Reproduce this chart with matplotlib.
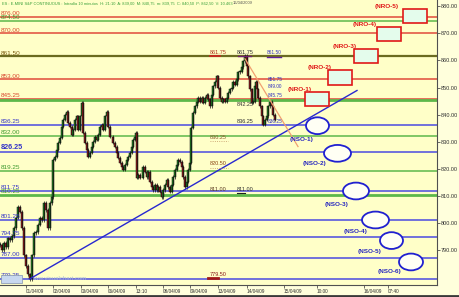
import matplotlib
matplotlib.use("Agg")
import matplotlib.pyplot as plt
from matplotlib.patches import Rectangle, Ellipse
from matplotlib.lines import Line2D

# ---------------- data ----------------
bar_pos = [0, 2, 4, 6, 8, 10, 12, 14, 16, 18, 20, 22, 24, 26, 28, 30, 32, 34, 36, 38,
           40, 42, 44, 46, 48, 50, 52, 53, 55, 57, 58, 60, 62, 63, 65, 67, 68, 70, 72, 73,
           75, 77, 78, 80, 82, 83, 85, 87, 88, 90, 92, 93, 95, 97, 98, 100, 102, 103, 105, 107,
           108, 110, 113, 115, 117, 118, 120, 122, 123, 125, 127, 128, 130, 132, 133, 135, 136, 137, 138, 140,
           143, 145, 147, 148, 150, 152, 153, 155, 157, 158, 160, 162, 163, 165, 167, 168, 170, 172, 173, 175,
           177, 178, 180, 182, 183, 185, 187, 188, 190, 191, 193, 195, 197, 198, 200, 202, 203, 205, 207, 208,
           210, 212, 213, 215, 217, 218, 220, 222, 223, 225, 227, 228, 230, 232, 233, 235, 237, 238, 240, 242,
           243, 245, 247, 248, 250, 252, 253, 255, 256, 257, 258, 260, 262, 263, 265, 267, 268, 270, 272, 273, 275]
closes = [791.9, 790.0, 792.6, 791.1, 794.4, 793.7, 795.2, 798.1, 801.9, 805.9, 804.1, 798.1, 788.1, 784.1, 781.1, 779.25, 788.1, 796.3, 796.7, 799.3,
          801.9, 801.1, 807.4, 804.8, 798.1, 807.4, 809.6, 823.3, 824.4, 827.0, 829.6, 831.5, 835.6, 838.1, 840.0, 841.1, 837.0, 835.6, 832.6, 834.4,
          838.1, 839.3, 834.4, 839.3, 844.4, 833.3, 829.6, 827.0, 824.4, 825.9, 828.1, 830.0, 831.9, 830.7, 832.6, 835.6, 836.3, 834.4, 839.3, 841.1,
          835.6, 831.9, 829.6, 828.1, 825.9, 824.1, 822.2, 820.7, 819.6, 821.5, 823.3, 824.4, 825.9, 828.1, 830.7, 831.9, 833.3, 816.7, 817.8, 816.7,
          820.7, 818.9, 817.0, 818.9, 815.2, 813.3, 812.2, 814.1, 812.2, 813.3, 811.5, 809.6, 812.2, 814.1, 815.9, 813.3, 811.5, 814.1, 817.0, 819.6,
          821.5, 823.3, 822.6, 820.7, 817.0, 813.3, 815.2, 819.6, 822.2, 835.2, 840.7, 843.0, 844.8, 846.3, 844.8, 846.3, 844.4, 846.3, 847.4, 845.6,
          843.0, 847.4, 850.4, 852.2, 854.1, 850.0, 846.3, 844.8, 845.6, 844.8, 846.3, 848.1, 849.3, 850.0, 852.2, 851.1, 853.0, 855.6, 855.9, 857.4,
          859.6, 861.75, 857.8, 854.1, 849.3, 844.4, 844.8, 850.4, 852.2, 849.3, 846.3, 843.0, 839.3, 836.25, 838.1, 839.3, 843.0, 844.8, 843.0, 840.0, 838.1]

red_levels = [876.00, 870.00, 853.00, 845.75]
red_labels = ["876.00", "870.00", "853.00", "845.25"]
green_levels = [874.50, 832.00, 819.25, 845.25, 810.25]
green_labels = ["874.50", "832.00", "819.25", "", "810.25"]
olive_level = 861.50
olive_label = "861.50"
blue_levels = [836.25, 826.25, 811.75, 801.25, 794.75, 787.00, 779.25]
blue_labels = ["836.25", "826.25", "811.75", "801.25", "794.75", "787.00", "779.25"]

trend_up_bars = [30, 357]
trend_up_prices = [779.4, 848.9]
trend_down_bars = [245, 298]
trend_down_prices = [860.6, 828.2]

nro_names = ["(NRO-1)", "(NRO-2)", "(NRO-3)", "(NRO-4)", "(NRO-5)"]
nro_bars = [317.5, 340.5, 366.5, 389.5, 415.5]
nro_prices = [845.6, 853.7, 861.5, 869.6, 876.3]
nso_names = ["(NSO-1)", "(NSO-2)", "(NSO-3)", "(NSO-4)", "(NSO-5)", "(NSO-6)"]
nso_bars = [317.5, 337.5, 356.0, 375.5, 391.5, 411.0]
nso_prices = [835.9, 825.7, 811.8, 801.1, 793.5, 785.6]

xtick_bars = [26, 53, 81, 108, 136, 163, 190, 218, 247, 284, 317, 364, 388]
xtick_labels = ["01/04/09", "02/04/09", "03/04/09", "06/04/09", "13:10", "08/04/09", "09/04/09",
                "13/04/09", "14/04/09", "15/04/09", "10:00", "16/04/09", "07:40"]
ytick_prices = [790, 800, 810, 820, 830, 840, 850, 860, 870, 880]

# small value notes on the chart: (bar, price, text, colour)
notes_a = [(210, 861.75, "861.75", "#B03020"), (210, 830.25, "830.25", "#8B5A2B"),
           (210, 820.50, "820.50", "#8B4513"), (210, 811.00, "811.00", "#5A3A20"),
           (210, 779.50, "779.50", "#8B1A1A")]
notes_b = [(237, 861.75, "861.75", "#303030"), (237, 842.25, "842.25", "#303030"),
           (237, 836.25, "836.25", "#303030"), (237, 811.00, "811.00", "#303030")]
notes_c = [(267, 861.50, "861.50"), (268, 851.75, "851.75"), (268, 849.00, "849.00"),
           (268, 845.75, "845.75"), (268, 836.25, "836.25")]

# ---------------- figure ----------------
plt.rcParams['font.family'] = ['Liberation Sans', 'DejaVu Sans']
W, H = 460, 297
fig = plt.figure(figsize=(W / 100, H / 100), dpi=100, facecolor="#FFFFDC")
ax = fig.add_axes([0, 12 / H, 437 / W, 285 / H])
ax.set_facecolor("#FFFFC8")
ax.set_xlim(0, 437)
ax.set_ylim(777.1, 882.3)

RED = "#E04A3A"
GREEN = "#5DB84A"
BLUE = "#4A4AE0"
LBL = 4.6

for lv, lb in zip(red_levels, red_labels):
    ax.axhline(lv, color=RED, lw=1.1, zorder=1)
    ax.text(1, lv + 0.3, lb, color="#D8482E", fontsize=LBL, va="bottom", ha="left", zorder=6)
for lv, lb in zip(green_levels, green_labels):
    ax.axhline(lv, color=GREEN, lw=2.0 if lv in (845.25, 810.25) else 1.1, zorder=1)
    if lb:
        ax.text(1, lv + 0.3, lb, color="#3E9A30", fontsize=LBL, va="bottom", ha="left", zorder=6)
ax.axhline(olive_level, color="#6B6B20", lw=1.6, zorder=1)
ax.text(1, olive_level + 0.3, olive_label, color="#7A5A10", fontsize=LBL, va="bottom", ha="left", zorder=6)
for lv, lb in zip(blue_levels, blue_labels):
    ax.axhline(lv, color=BLUE, lw=1.1, zorder=1)
    bold = lb == "826.25"
    ax.text(1, lv + 0.3, lb, color="#3434C8", fontsize=5.2 if bold else LBL,
            fontweight="bold" if bold else "normal", va="bottom", ha="left", zorder=6)

# candles: open = previous close
opens = [closes[0]] + closes[:-1]
for x, o, c in zip(bar_pos, opens, closes):
    lo, hi = min(o, c), max(o, c)
    if hi - lo < 0.4:
        hi = lo + 0.4
    col = "#1F7A1F" if c >= o else "#8B1A1A"
    ax.add_patch(Rectangle((x - 0.6, lo), 1.2, hi - lo, facecolor=col,
                           edgecolor="#101010", lw=0.35, zorder=3))
    ax.vlines(x, lo - 0.6, hi + 0.6, color="#101010", lw=0.5, zorder=3)

# trend lines
ax.plot(trend_up_bars, trend_up_prices, color="#2828D0", lw=1.0, zorder=4)
ax.plot(trend_down_bars, trend_down_prices, color="#F0A070", lw=0.9, zorder=4)

# NRO boxes
nro_label_dx = [-17.5, -20.5, -21.5, -24.5, -28.5]
for name, bx, pr, dx in zip(nro_names, nro_bars, nro_prices, nro_label_dx):
    ax.add_patch(Rectangle((bx - 12, pr - 2.6), 24, 5.2, facecolor="#E4FCEC",
                           edgecolor="#E01818", lw=1.2, zorder=5))
    ax.text(bx + dx, pr + 3.6, name, color="#E01818", fontsize=4.6, fontweight="bold",
            ha="center", va="center", zorder=6)

# NSO ellipses
nso_w = [23, 27, 26, 27, 23, 24]
nso_label_dx = [-15.5, -22.5, -19, -19.5, -21.5, -21]
nso_label_dy = [-5.2, -3.8, -5.1, -4.4, -4.2, -3.7]
for name, bx, pr, w, dx, dy in zip(nso_names, nso_bars, nso_prices, nso_w, nso_label_dx, nso_label_dy):
    ax.add_patch(Ellipse((bx, pr), w, 6.2, facecolor="#FFFFF4", edgecolor="#2020D0",
                         lw=1.3, zorder=5))
    ax.text(bx + dx, pr + dy, name, color="#2828C0", fontsize=4.6, fontweight="bold",
            ha="center", va="center", zorder=6)

# notes
for x, p, t, c in notes_a:
    ax.text(x, p + 0.4, t, color=c, fontsize=4.0, va="bottom", ha="left", zorder=6)
for x, p, t, c in notes_b:
    ax.text(x, p + 0.4, t, color=c, fontsize=4.0, va="bottom", ha="left", zorder=6)
for x, p, t in notes_c:
    ax.text(x, p + 0.4, t, color="#3030C0", fontsize=3.4, va="bottom", ha="left", zorder=6)
ax.plot([210, 220], [861.55, 861.55], color="#D02020", lw=1.2, zorder=5)
ax.plot([238, 251], [861.55, 861.55], color="#702070", lw=1.0, zorder=5)
ax.plot([267, 281], [861.2, 861.2], color="#6020A0", lw=1.0, zorder=5)
ax.plot([208, 218], [779.6, 779.6], color="#A01818", lw=2.0, zorder=5)
ax.plot([210, 228], [830.2, 830.2], color="#C09060", lw=0.6, ls=":", zorder=5)
ax.plot([210, 228], [820.4, 820.4], color="#C09060", lw=0.6, ls=":", zorder=5)
ax.plot([237, 245], [810.9, 810.9], color="#202020", lw=0.8, zorder=5)

# watermark
ax.text(30, 779.6, "www.visualchart.com", color="#A8B8D8", fontsize=4.3, va="center",
        ha="left", zorder=2)
ax.add_patch(Rectangle((0.5, 777.9), 22, 2.8, facecolor="#C8D8F0", edgecolor="#8090B0",
                       lw=0.5, zorder=6))

# axes styling
for s in ["top", "left"]:
    ax.spines[s].set_visible(False)
ax.spines["right"].set_color("#505050")
ax.spines["bottom"].set_color("#505050")
ax.spines["right"].set_linewidth(0.8)
ax.spines["bottom"].set_linewidth(0.8)
ax.yaxis.tick_right()
ax.set_yticks(ytick_prices)
ax.set_yticklabels(["%.2f" % v for v in ytick_prices])
ax.tick_params(axis="y", direction="out", length=2, width=0.5, pad=0.8,
               labelsize=4.0, colors="#303030")
ax.set_xticks(xtick_bars)
ax.set_xticklabels(xtick_labels)
for lbl in ax.get_xticklabels():
    lbl.set_horizontalalignment("left")
ax.tick_params(axis="x", direction="out", length=2, width=0.5, pad=0.8,
               labelsize=3.4, colors="#303030")

# header
fig.text(2 / W, 1 - 3.5 / H, "ES : E-MINI S&P CONTINUOUS : Intradía 10 minutos  H: 21:10  A: 839,00  "
         "M: 840,75  m: 839,75  C: 840,50  P: 862,50  V: 10.463", color="#3AA03A",
         fontsize=2.85, va="center", ha="left")
fig.text(233 / W, 1 - 3.5 / H, "16/04/2009", color="#505050", fontsize=2.85, va="center", ha="left")

fig.add_artist(Line2D([0, 1], [1.5 / H, 1.5 / H], color="#383838", lw=2.0))

fig.savefig("out.png", dpi=100, facecolor=fig.get_facecolor())
